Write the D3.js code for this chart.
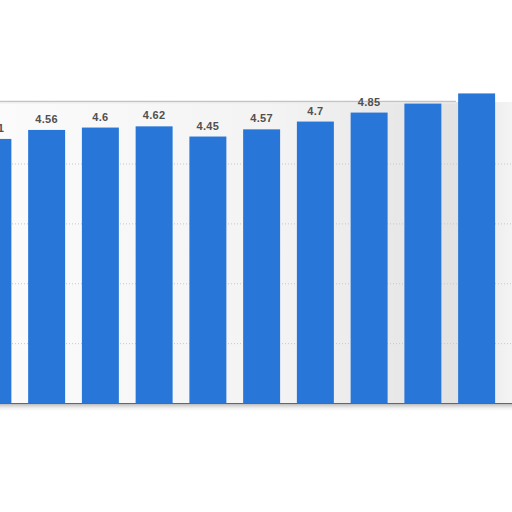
<!DOCTYPE html>
<html><head><meta charset="utf-8">
<script src="https://cdn.jsdelivr.net/npm/d3@7"></script>
<style>html,body{margin:0;padding:0;background:#fff;overflow:hidden}</style>
</head><body>
<svg id="c" width="512" height="512"></svg>
<script>
const categories = ["c1","c2","c3","c4","c5","c6","c7","c8","c9","c10"];
const values = [4.41, 4.56, 4.6, 4.62, 4.45, 4.57, 4.7, 4.85, 5.0, 5.17];
const labels = ["4.41","4.56","4.6","4.62","4.45","4.57","4.7","4.85","5","5.17"];
const gridTicks = [1, 2, 3, 4];

const svg = d3.select("#c");
const x = d3.scaleBand().domain(categories).range([-34, 503.5]).paddingInner(0.312).paddingOuter(0.156);
const y = d3.scaleLinear().domain([0, 5]).range([403, 103.6]);

const defs = svg.append("defs");
const g1 = defs.append("linearGradient").attr("id","bg").attr("x1","0").attr("x2","1").attr("y1","0").attr("y2","0");
g1.append("stop").attr("offset","0").attr("stop-color","#fbfbfb");
g1.append("stop").attr("offset","0.55").attr("stop-color","#f3f3f3");
g1.append("stop").attr("offset","0.9").attr("stop-color","#e2e2e2");
g1.append("stop").attr("offset","1").attr("stop-color","#f4f4f4");
const sh = defs.append("linearGradient").attr("id","sh").attr("x1","0").attr("x2","0").attr("y1","0").attr("y2","1");
sh.append("stop").attr("offset","0").attr("stop-color","#bbb");
sh.append("stop").attr("offset","1").attr("stop-color","#fff").attr("stop-opacity",0);
defs.append("clipPath").attr("id","lab").append("rect").attr("x",0).attr("y",97).attr("width",512).attr("height",320);

// plot background
svg.append("rect").attr("x",0).attr("y",102).attr("width",512).attr("height",y(0)-102).attr("fill","url(#bg)");

// gridlines
svg.append("g").selectAll("line").data(gridTicks).join("line")
  .attr("x1",0).attr("x2",512).attr("y1",d=>y(d)+0.5).attr("y2",d=>y(d)+0.5)
  .attr("stroke","#c8c8c8").attr("stroke-dasharray","1,2");

// top frame line
svg.append("line").attr("x1",0).attr("x2",456).attr("y1",101.5).attr("y2",101.5).attr("stroke","#c4c4c4").attr("stroke-width",1.5);
svg.append("line").attr("x1",0).attr("x2",456).attr("y1",103).attr("y2",103).attr("stroke","#eee").attr("stroke-width",1);

// bars
svg.append("g").selectAll("rect").data(values).join("rect")
  .attr("x",(d,i)=>x(categories[i])).attr("width",x.bandwidth())
  .attr("y",d=>y(d)).attr("height",d=>y(0)-y(d))
  .attr("fill","#2876d8");

// baseline
svg.append("rect").attr("x",0).attr("y",y(0)+1).attr("width",512).attr("height",8).attr("fill","url(#sh)");
svg.append("line").attr("x1",0).attr("x2",512).attr("y1",y(0)+0.5).attr("y2",y(0)+0.5).attr("stroke","#666").attr("stroke-width",1.2);

// value labels
svg.append("g").attr("clip-path","url(#lab)").selectAll("text").data(values).join("text")
  .attr("x",(d,i)=>x(categories[i])+x.bandwidth()/2)
  .attr("y",d=>y(d)-7)
  .attr("text-anchor","middle")
  .attr("font-family","Liberation Sans, Arial, sans-serif")
  .attr("font-weight","bold").attr("font-size","11px").attr("letter-spacing","0.3px").attr("fill","#505050")
  .text((d,i)=>labels[i]);
</script>
</body></html>
